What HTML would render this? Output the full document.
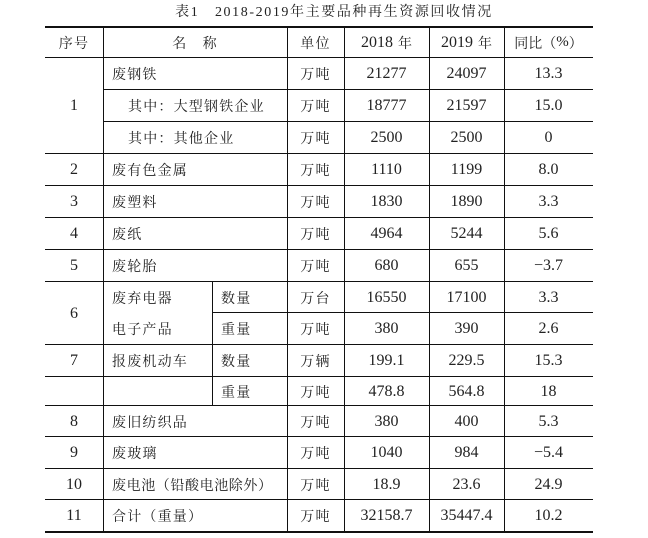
<!DOCTYPE html>
<html><head><meta charset="utf-8"><style>
html,body{margin:0;padding:0;background:#fff;}
body{width:648px;height:538px;position:relative;overflow:hidden;font-family:"Liberation Serif","Noto Serif CJK SC",serif;color:#222;}
.h{position:absolute;background:#111;height:1px;}
.v{position:absolute;background:#111;width:1px;}
.c{position:absolute;display:flex;align-items:center;justify-content:center;box-sizing:border-box;padding-top:2px;font-size:14px;letter-spacing:1.2px;white-space:nowrap;}
.l{justify-content:flex-start;padding-left:9px;}
.n{font-size:16px;letter-spacing:0;}
.t{position:absolute;left:134px;width:400px;top:1px;text-align:center;font-size:14px;letter-spacing:1.6px;white-space:nowrap;}
.y{font-size:14px;margin-left:5px;}
</style></head><body>
<div class="t">表1　2018-2019年主要品种再生资源回收情况</div>

<div class="h" style="left:45px;top:26px;width:548px;height:2px"></div>
<div class="h" style="left:45px;top:57px;width:548px"></div>
<div class="h" style="left:103px;top:89px;width:490px"></div>
<div class="h" style="left:103px;top:121px;width:490px"></div>
<div class="h" style="left:45px;top:153px;width:548px"></div>
<div class="h" style="left:45px;top:185px;width:548px"></div>
<div class="h" style="left:45px;top:217px;width:548px"></div>
<div class="h" style="left:45px;top:249px;width:548px"></div>
<div class="h" style="left:45px;top:281px;width:548px"></div>
<div class="h" style="left:212px;top:312px;width:381px"></div>
<div class="h" style="left:45px;top:344px;width:548px"></div>
<div class="h" style="left:45px;top:376px;width:548px"></div>
<div class="h" style="left:45px;top:405px;width:548px"></div>
<div class="h" style="left:45px;top:436px;width:548px"></div>
<div class="h" style="left:45px;top:468px;width:548px"></div>
<div class="h" style="left:45px;top:499px;width:548px"></div>
<div class="h" style="left:45px;top:531px;width:548px;height:2px"></div>

<div class="v" style="left:103px;top:26px;height:506px"></div>
<div class="v" style="left:287px;top:26px;height:506px"></div>
<div class="v" style="left:344px;top:26px;height:506px"></div>
<div class="v" style="left:429px;top:26px;height:506px"></div>
<div class="v" style="left:504px;top:26px;height:506px"></div>
<div class="v" style="left:212px;top:281px;height:124px"></div>

<div class="c" style="left:45px;top:26px;width:58px;height:31px">序号</div>
<div class="c" style="left:103px;top:26px;width:184px;height:31px">名　称</div>
<div class="c" style="left:287px;top:26px;width:57px;height:31px">单位</div>
<div class="c n" style="left:344px;top:26px;width:85px;height:31px">2018<span class="y">年</span></div>
<div class="c n" style="left:429px;top:26px;width:75px;height:31px">2019<span class="y">年</span></div>
<div class="c" style="left:504px;top:26px;width:89px;height:31px;letter-spacing:0">同比（<span style="font-size:15px">%</span>）</div>

<div class="c n" style="left:45px;top:57px;width:58px;height:96px">1</div>
<div class="c l" style="left:103px;top:57px;width:184px;height:32px">废钢铁</div>
<div class="c" style="left:287px;top:57px;width:57px;height:32px">万吨</div>
<div class="c n" style="left:344px;top:57px;width:85px;height:32px">21277</div>
<div class="c n" style="left:429px;top:57px;width:75px;height:32px">24097</div>
<div class="c n" style="left:504px;top:57px;width:89px;height:32px">13.3</div>

<div class="c l" style="left:103px;top:89px;width:184px;height:32px;padding-left:25px">其中：大型钢铁企业</div>
<div class="c" style="left:287px;top:89px;width:57px;height:32px">万吨</div>
<div class="c n" style="left:344px;top:89px;width:85px;height:32px">18777</div>
<div class="c n" style="left:429px;top:89px;width:75px;height:32px">21597</div>
<div class="c n" style="left:504px;top:89px;width:89px;height:32px">15.0</div>

<div class="c l" style="left:103px;top:121px;width:184px;height:32px;padding-left:25px">其中：其他企业</div>
<div class="c" style="left:287px;top:121px;width:57px;height:32px">万吨</div>
<div class="c n" style="left:344px;top:121px;width:85px;height:32px">2500</div>
<div class="c n" style="left:429px;top:121px;width:75px;height:32px">2500</div>
<div class="c n" style="left:504px;top:121px;width:89px;height:32px">0</div>

<div class="c n" style="left:45px;top:153px;width:58px;height:32px">2</div>
<div class="c l" style="left:103px;top:153px;width:184px;height:32px">废有色金属</div>
<div class="c" style="left:287px;top:153px;width:57px;height:32px">万吨</div>
<div class="c n" style="left:344px;top:153px;width:85px;height:32px">1110</div>
<div class="c n" style="left:429px;top:153px;width:75px;height:32px">1199</div>
<div class="c n" style="left:504px;top:153px;width:89px;height:32px">8.0</div>

<div class="c n" style="left:45px;top:185px;width:58px;height:32px">3</div>
<div class="c l" style="left:103px;top:185px;width:184px;height:32px">废塑料</div>
<div class="c" style="left:287px;top:185px;width:57px;height:32px">万吨</div>
<div class="c n" style="left:344px;top:185px;width:85px;height:32px">1830</div>
<div class="c n" style="left:429px;top:185px;width:75px;height:32px">1890</div>
<div class="c n" style="left:504px;top:185px;width:89px;height:32px">3.3</div>

<div class="c n" style="left:45px;top:217px;width:58px;height:32px">4</div>
<div class="c l" style="left:103px;top:217px;width:184px;height:32px">废纸</div>
<div class="c" style="left:287px;top:217px;width:57px;height:32px">万吨</div>
<div class="c n" style="left:344px;top:217px;width:85px;height:32px">4964</div>
<div class="c n" style="left:429px;top:217px;width:75px;height:32px">5244</div>
<div class="c n" style="left:504px;top:217px;width:89px;height:32px">5.6</div>

<div class="c n" style="left:45px;top:249px;width:58px;height:32px">5</div>
<div class="c l" style="left:103px;top:249px;width:184px;height:32px">废轮胎</div>
<div class="c" style="left:287px;top:249px;width:57px;height:32px">万吨</div>
<div class="c n" style="left:344px;top:249px;width:85px;height:32px">680</div>
<div class="c n" style="left:429px;top:249px;width:75px;height:32px">655</div>
<div class="c n" style="left:504px;top:249px;width:89px;height:32px">−3.7</div>

<div class="c n" style="left:45px;top:281px;width:58px;height:63px">6</div>
<div class="c l" style="left:103px;top:281px;width:109px;height:31px">废弃电器</div>
<div class="c l" style="left:103px;top:312px;width:109px;height:32px">电子产品</div>
<div class="c l" style="left:212px;top:281px;width:75px;height:31px">数量</div>
<div class="c" style="left:287px;top:281px;width:57px;height:31px">万台</div>
<div class="c n" style="left:344px;top:281px;width:85px;height:31px">16550</div>
<div class="c n" style="left:429px;top:281px;width:75px;height:31px">17100</div>
<div class="c n" style="left:504px;top:281px;width:89px;height:31px">3.3</div>
<div class="c l" style="left:212px;top:312px;width:75px;height:32px">重量</div>
<div class="c" style="left:287px;top:312px;width:57px;height:32px">万吨</div>
<div class="c n" style="left:344px;top:312px;width:85px;height:32px">380</div>
<div class="c n" style="left:429px;top:312px;width:75px;height:32px">390</div>
<div class="c n" style="left:504px;top:312px;width:89px;height:32px">2.6</div>

<div class="c n" style="left:45px;top:344px;width:58px;height:32px">7</div>
<div class="c l" style="left:103px;top:344px;width:109px;height:32px">报废机动车</div>
<div class="c l" style="left:212px;top:344px;width:75px;height:32px">数量</div>
<div class="c" style="left:287px;top:344px;width:57px;height:32px">万辆</div>
<div class="c n" style="left:344px;top:344px;width:85px;height:32px">199.1</div>
<div class="c n" style="left:429px;top:344px;width:75px;height:32px">229.5</div>
<div class="c n" style="left:504px;top:344px;width:89px;height:32px">15.3</div>
<div class="c l" style="left:212px;top:376px;width:75px;height:29px">重量</div>
<div class="c" style="left:287px;top:376px;width:57px;height:29px">万吨</div>
<div class="c n" style="left:344px;top:376px;width:85px;height:29px">478.8</div>
<div class="c n" style="left:429px;top:376px;width:75px;height:29px">564.8</div>
<div class="c n" style="left:504px;top:376px;width:89px;height:29px">18</div>

<div class="c n" style="left:45px;top:405px;width:58px;height:31px">8</div>
<div class="c l" style="left:103px;top:405px;width:184px;height:31px">废旧纺织品</div>
<div class="c" style="left:287px;top:405px;width:57px;height:31px">万吨</div>
<div class="c n" style="left:344px;top:405px;width:85px;height:31px">380</div>
<div class="c n" style="left:429px;top:405px;width:75px;height:31px">400</div>
<div class="c n" style="left:504px;top:405px;width:89px;height:31px">5.3</div>

<div class="c n" style="left:45px;top:436px;width:58px;height:32px">9</div>
<div class="c l" style="left:103px;top:436px;width:184px;height:32px">废玻璃</div>
<div class="c" style="left:287px;top:436px;width:57px;height:32px">万吨</div>
<div class="c n" style="left:344px;top:436px;width:85px;height:32px">1040</div>
<div class="c n" style="left:429px;top:436px;width:75px;height:32px">984</div>
<div class="c n" style="left:504px;top:436px;width:89px;height:32px">−5.4</div>

<div class="c n" style="left:45px;top:468px;width:58px;height:31px">10</div>
<div class="c l" style="left:103px;top:468px;width:184px;height:31px;letter-spacing:0.6px">废电池（铅酸电池除外）</div>
<div class="c" style="left:287px;top:468px;width:57px;height:31px">万吨</div>
<div class="c n" style="left:344px;top:468px;width:85px;height:31px">18.9</div>
<div class="c n" style="left:429px;top:468px;width:75px;height:31px">23.6</div>
<div class="c n" style="left:504px;top:468px;width:89px;height:31px">24.9</div>

<div class="c n" style="left:45px;top:499px;width:58px;height:32px">11</div>
<div class="c l" style="left:103px;top:499px;width:184px;height:32px">合计（重量）</div>
<div class="c" style="left:287px;top:499px;width:57px;height:32px">万吨</div>
<div class="c n" style="left:344px;top:499px;width:85px;height:32px">32158.7</div>
<div class="c n" style="left:429px;top:499px;width:75px;height:32px">35447.4</div>
<div class="c n" style="left:504px;top:499px;width:89px;height:32px">10.2</div>
</body></html>
